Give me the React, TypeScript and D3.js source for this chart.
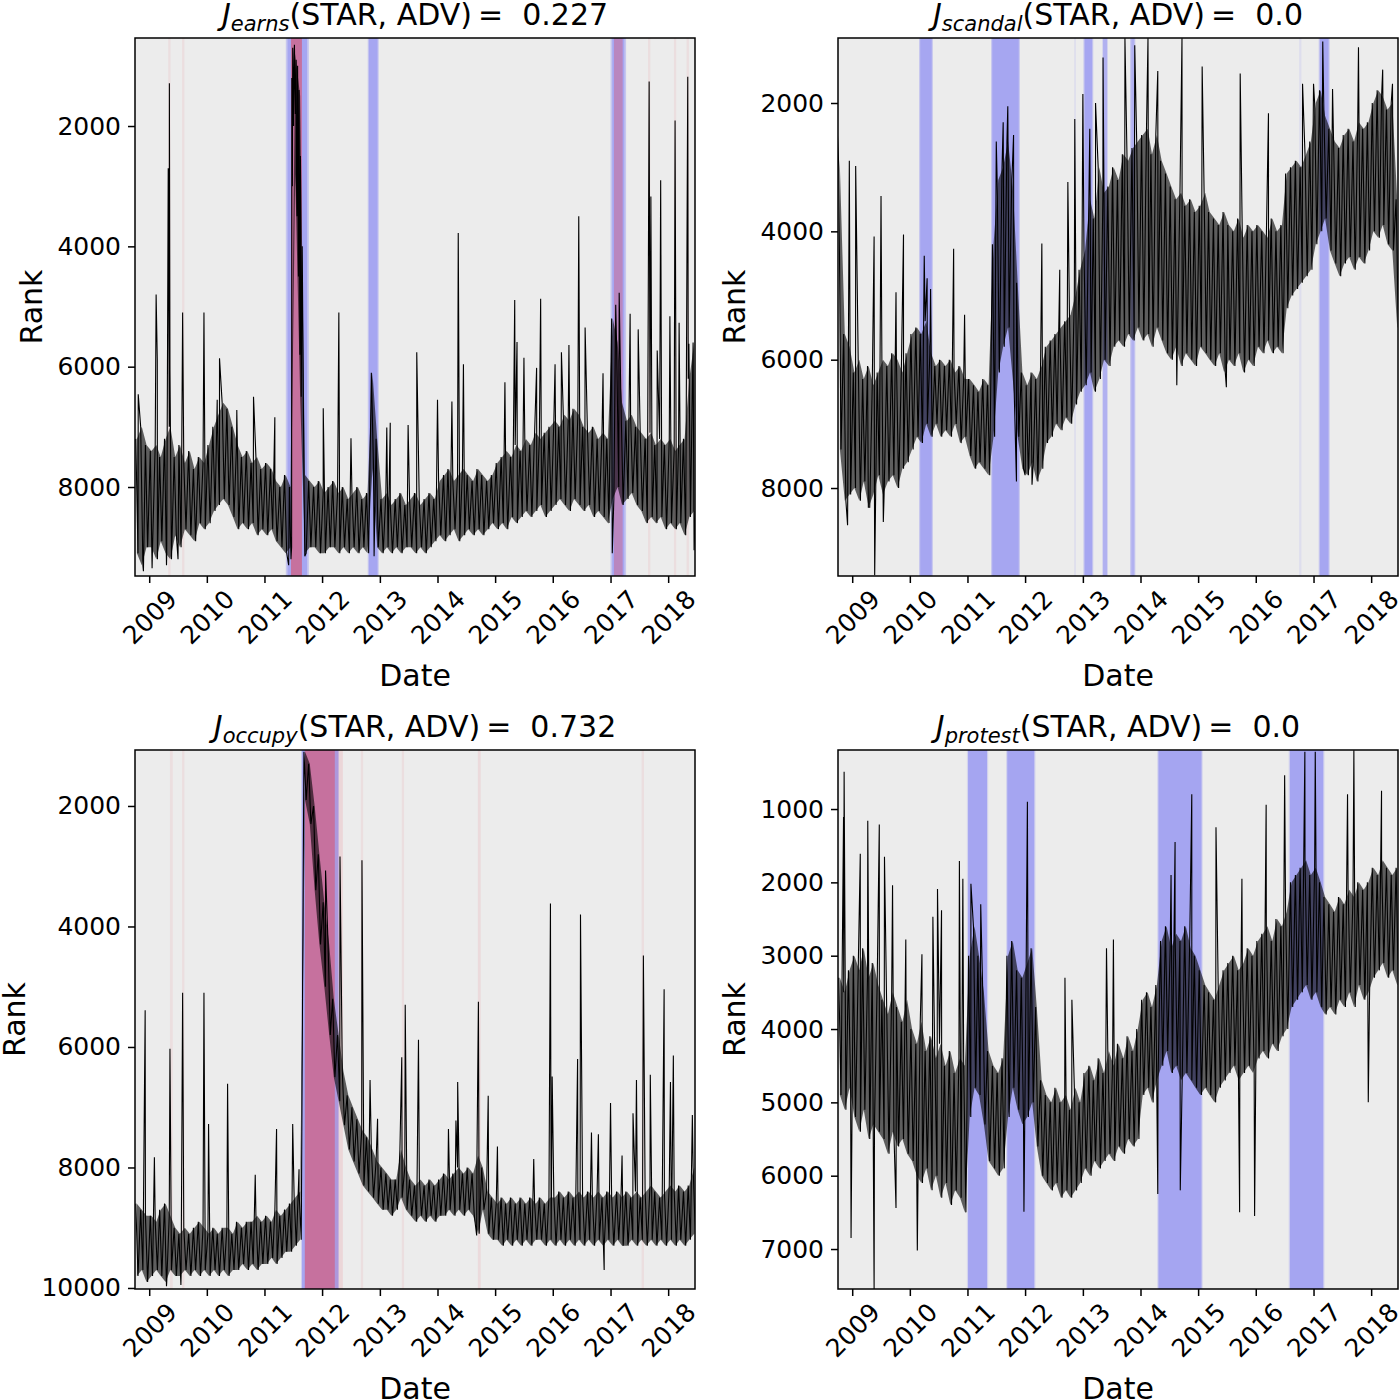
import React, { useEffect, useRef } from 'react';
import * as d3 from 'd3';

// monthly envelope of the daily rank series (Oct 2008 .. Jun 2018):
// *Top = upper edge of the dense band (small rank), *Bot = lower edge
const earnsTop = [
  7200, 7000, 7300,
  7400, 7300, 7500, 7200, 7000, 7500, 7300, 7600, 7400, 7700, 7500, 7600,
  7300, 7000, 6800, 6600, 6700, 7000, 7300, 7500, 7400, 7600, 7500, 7700,
  7600, 7700, 7900, 8000, 7800, 8000, 800, 1500, 7800, 7900, 8000, 7900,
  8100, 8000, 7900, 8100, 8000, 8200, 8100, 8000, 8200, 8100, 6100, 7200,
  8200, 8100, 8300, 8200, 8100, 8300, 8200, 8100, 8300, 8200, 8100, 8200,
  7900, 7800, 7700, 7900, 7800, 7700, 7800, 7900, 7700, 7800, 7900, 7800,
  7600, 7500, 7400, 7500, 7300, 7400, 7200, 7300, 7100, 7200, 7100, 7000,
  6900, 7000, 6800, 6900, 6700, 6800, 7000, 7100, 7000, 7200, 7100, 7200,
  5200, 5600, 6600, 6900, 6800, 7000, 7100, 7200, 7100, 7300, 7200, 7300,
  7200, 7400, 7300, 7200, 6200, 5600,
];
const earnsBot = [
  9100, 9300, 9000,
  9000, 9200, 8900, 9100, 9200, 8800, 9000, 8700, 8800, 8900, 8600, 8700,
  8600, 8400, 8300, 8200, 8300, 8500, 8700, 8600, 8700, 8600, 8800, 8700,
  8800, 8700, 8900, 9000, 9100, 9000, 2800, 6500, 9100, 9000, 9000, 9100,
  9100, 9000, 9000, 9100, 9000, 9100, 9000, 9100, 9000, 9100, 7700, 9000,
  9100, 9000, 9100, 9000, 9100, 9000, 9000, 9100, 9000, 9100, 9000, 8900,
  8800, 8900, 8800, 8700, 8900, 8800, 8700, 8800, 8700, 8800, 8700, 8600,
  8700, 8600, 8700, 8500, 8600, 8500, 8400, 8500, 8400, 8300, 8500, 8400,
  8300, 8200, 8300, 8400, 8200, 8300, 8400, 8300, 8500, 8400, 8500, 8600,
  8200, 8000, 8300, 8200, 8100, 8300, 8400, 8600, 8500, 8600, 8500, 8700,
  8600, 8700, 8600, 8800, 8500, 8400,
];
// single-day excursions [decimal year, rank]
const earnsSpikes = [
  [2008.81, 6460], [2008.9, 9400], [2009.05, 9350], [2009.12, 4800], [2009.14, 5880],
  [2009.3, 9300], [2009.33, 2700], [2009.35, 1290], [2009.36, 6050], [2009.5, 9200],
  [2009.58, 5100], [2009.95, 5100], [2010.18, 6550], [2010.22, 5860], [2010.52, 6720],
  [2010.81, 6500], [2011.18, 6840], [2011.42, 9300], [2011.46, 9200], [2011.475, 1200],
  [2011.485, 3000], [2011.49, 700], [2011.505, 2000], [2011.52, 650], [2011.535, 1800],
  [2011.55, 900], [2011.565, 3500], [2011.575, 1000], [2011.59, 4500], [2011.6, 1400],
  [2011.615, 5800], [2011.625, 2500], [2011.64, 6200], [2011.655, 4000], [2011.7, 9150],
  [2012.02, 6690], [2012.29, 5100], [2012.5, 7190], [2012.9, 9150], [2013.12, 7010],
  [2013.18, 6930], [2013.49, 6970], [2013.64, 5760], [2014.0, 6550], [2014.25, 6580],
  [2014.36, 3780], [2014.45, 5960], [2015.17, 6260], [2015.34, 4890], [2015.38, 5590],
  [2015.5, 5850], [2015.72, 6020], [2015.79, 4870], [2016.04, 5960], [2016.15, 5760],
  [2016.28, 5640], [2016.45, 3500], [2016.56, 5350], [2016.87, 6110], [2017.03, 9100],
  [2017.09, 4970], [2017.15, 4770], [2017.34, 5120], [2017.48, 5380], [2017.67, 1260],
  [2017.7, 3170], [2017.81, 5730], [2017.87, 2900], [2018.03, 5160], [2018.12, 1910],
  [2018.19, 5270], [2018.34, 1180], [2018.36, 5620], [2018.45, 9050],
];

const scandalTop = [
  3000, 5600, 5800,
  6200, 6000, 6300, 6100, 6400, 6200, 6000, 6100, 5900, 6000, 6200, 5900,
  5600, 5500, 5600, 5400, 5900, 6100, 6000, 6100, 6000, 6200, 6100, 6300,
  6300, 6400, 6500, 6300, 6400, 4200, 3200, 3000, 2600, 3300, 4800, 6200,
  6400, 6200, 6300, 6100, 5800, 5700, 5600, 5500, 5400, 5300, 5000, 4600,
  4300, 3500, 3800, 3000, 3400, 3300, 3000, 3200, 2800, 2900, 2700, 2600,
  2500, 2400, 2800, 2500, 2900, 3100, 3300, 3500, 3400, 3600, 3500, 3700,
  3600, 3400, 3700, 3800, 3900, 3700, 3900, 4000, 3800, 4100, 3900, 4000,
  3900, 4000, 4100, 3800, 4000, 3900, 3100, 3000, 2900, 3000, 2800, 2600,
  2000, 1800, 2200, 2400, 2600, 2700, 2500, 2400, 2600, 2300, 2400, 2300,
  2000, 1800, 1900, 2100, 2000, 3500,
];
const scandalBot = [
  7400, 8200, 8100,
  8000, 8200, 7900, 8300, 8100, 7800, 8100, 7900, 7800, 8000, 7700, 7600,
  7400, 7200, 7300, 7000, 7200, 7000, 7200, 7100, 7200, 7000, 7300, 7200,
  7500, 7700, 7600, 7700, 7800, 7200, 6200, 5800, 5500, 6300, 7200, 7700,
  7800, 7600, 7900, 7700, 7300, 7200, 7000, 7100, 6900, 7000, 6700, 6500,
  6400, 6200, 6500, 6300, 6000, 6100, 5800, 5700, 5800, 5600, 5700, 5500,
  5700, 5600, 5800, 5500, 5700, 5900, 6000, 5800, 6100, 5900, 6000, 6100,
  5800, 5900, 6000, 6100, 5900, 6200, 6000, 6100, 5900, 6200, 6000, 6100,
  5800, 5900, 5700, 5900, 5800, 5900, 5200, 5000, 4900, 4800, 4700, 4600,
  4200, 4000, 3800, 4300, 4500, 4700, 4500, 4400, 4600, 4400, 4500, 4300,
  4000, 4100, 3900, 4200, 4300, 5500,
];
const scandalSpikes = [
  [2008.74, 2410], [2008.92, 8580], [2008.95, 2900], [2009.06, 2980], [2009.28, 8300],
  [2009.38, 4080], [2009.39, 9360], [2009.5, 3450], [2009.54, 8530], [2009.76, 4950],
  [2009.89, 4050], [2010.25, 4380], [2010.3, 4730], [2010.36, 4900], [2010.76, 4270],
  [2010.95, 5300], [2011.5, 2600], [2011.62, 2300], [2011.7, 2050], [2011.8, 2500],
  [2011.85, 7900], [2012.0, 7800], [2012.12, 7950], [2012.29, 4190], [2012.6, 4600],
  [2012.74, 3230], [2012.86, 2250], [2013.0, 1860], [2013.12, 2400], [2013.22, 2000],
  [2013.35, 1290], [2013.73, 990], [2013.9, 1100], [2014.13, 990], [2014.3, 1500],
  [2014.63, 6400], [2014.72, 990], [2015.07, 1430], [2015.49, 6430], [2015.73, 1540],
  [2016.22, 2160], [2016.81, 1700], [2017.0, 1700], [2017.16, 1040], [2017.33, 1780],
  [2017.78, 1130], [2018.2, 1480], [2018.37, 1700],
];

const occupyTop = [
  8600, 8700, 8800,
  8800, 8900, 8700, 8600, 8800, 9000, 9100, 9000, 9100, 9000, 8900, 9000,
  9100, 9000, 9100, 9000, 9000, 9100, 8900, 9000, 8900, 8900, 8800, 8900,
  8800, 8900, 8700, 8800, 8700, 8600, 8500, 8400, 1100, 1300, 2000, 2800,
  3600, 4300, 5200, 5800, 6400, 6800, 7000, 7200, 7400, 7500, 7700, 7900,
  8000, 8100, 8200, 8200, 7700, 8000, 8200, 8300, 8200, 8300, 8200, 8300,
  8200, 8100, 8200, 8100, 8000, 8100, 8000, 8100, 7800, 8000, 8400, 8500,
  8600, 8500, 8600, 8500, 8600, 8500, 8600, 8500, 8600, 8500, 8600, 8500,
  8500, 8400, 8500, 8400, 8500, 8400, 8500, 8400, 8500, 8400, 8500, 8400,
  8500, 8400, 8500, 8400, 8500, 8400, 8500, 8400, 8300, 8400, 8500, 8400,
  8300, 8400, 8300, 8400, 8300, 8000,
];
const occupyBot = [
  9800, 9700, 9900,
  9800, 9700, 9800, 9900, 9700, 9800, 9800, 9700, 9800, 9700, 9800, 9700,
  9800, 9700, 9800, 9700, 9800, 9700, 9700, 9600, 9700, 9600, 9700, 9600,
  9600, 9500, 9600, 9500, 9400, 9400, 9300, 9200, 1900, 2300, 3400, 4300,
  5000, 5800, 6500, 6900, 7300, 7700, 7900, 8100, 8300, 8400, 8500, 8600,
  8700, 8700, 8800, 8700, 8500, 8700, 8800, 8900, 8800, 8900, 8800, 8900,
  8800, 8800, 8700, 8800, 8700, 8800, 8700, 8800, 9100, 8700, 9100, 9200,
  9200, 9300, 9200, 9300, 9200, 9300, 9200, 9300, 9200, 9200, 9300, 9200,
  9300, 9200, 9300, 9200, 9300, 9200, 9300, 9200, 9300, 9200, 9300, 9200,
  9300, 9200, 9300, 9300, 9200, 9300, 9200, 9300, 9200, 9300, 9200, 9300,
  9200, 9300, 9200, 9300, 9200, 9100,
];
const occupySpikes = [
  [2008.93, 5390], [2009.09, 7830], [2009.3, 9970], [2009.36, 6030], [2009.55, 9950],
  [2009.58, 5100], [2009.95, 5100], [2010.03, 7280], [2010.36, 6610], [2010.84, 8120],
  [2011.21, 7360], [2011.49, 7280], [2011.6, 8030], [2011.66, 5300], [2012.06, 3070],
  [2012.31, 2840], [2012.69, 2900], [2012.83, 6550], [2012.96, 7190], [2013.38, 6170],
  [2013.44, 5300], [2013.67, 5880], [2014.19, 7360], [2014.32, 7220], [2014.35, 6580],
  [2014.68, 9130], [2014.71, 5250], [2014.88, 6810], [2015.04, 7650], [2015.67, 7860],
  [2015.96, 3620], [2015.99, 6490], [2016.43, 6200], [2016.48, 3800], [2016.67, 7420],
  [2016.79, 7450], [2016.89, 9700], [2017.0, 6930], [2017.2, 7800], [2017.39, 7100],
  [2017.45, 6550], [2017.57, 4480], [2017.69, 6460], [2017.93, 5040], [2018.04, 6580],
  [2018.09, 6140], [2018.42, 7130],
];

const protestTop = [
  3300, 3500, 3200,
  3000, 3200, 2900, 3300, 3100, 3400, 3600, 3800, 3500, 3700, 3900, 3600,
  4000, 4200, 3900, 4300, 4100, 4400, 4200, 4500, 4300, 4600, 4400, 4500,
  3000, 2600, 3000, 3500, 4300, 4500, 4600, 4400, 3000, 2800, 3200, 3300,
  3100, 2900, 3700, 4700, 4900, 5000, 4800, 5000, 4900, 5100, 4800, 5000,
  4600, 4500, 4700, 4400, 4600, 4300, 4500, 4200, 4400, 4100, 4300, 4000,
  3600, 3500, 3700, 3400, 2800, 2600, 2900, 2700, 2800, 2600, 2900, 3000,
  3200, 3400, 3500, 3600, 3400, 3200, 3100, 3000, 3200, 3100, 2900, 3000,
  2800, 2700, 2600, 2800, 2500, 2600, 2400, 2000, 1900, 1800, 1700, 1900,
  1800, 2000, 2200, 2300, 2400, 2200, 2300, 2100, 2200, 2000, 2100, 2000,
  1800, 1900, 1700, 1800, 1900, 1800,
];
const protestBot = [
  4900, 5100, 4800,
  5200, 5400, 5100, 5500, 5300, 5400, 5500, 5700, 5400, 5600, 5500, 5700,
  5800, 6000, 6100, 5900, 6200, 6000, 6300, 6100, 6400, 6200, 6300, 6500,
  5200, 4800, 4900, 5300, 5800, 5900, 6000, 5900, 5200, 4800, 5100, 5300,
  5200, 5000, 5600, 6000, 6100, 6200, 6100, 6300, 6200, 6300, 6200, 6100,
  5900, 6000, 5800, 5900, 5800, 5700, 5800, 5600, 5700, 5500, 5600, 5500,
  4900, 4800, 5000, 4700, 4500, 4300, 4600, 4500, 4700, 4600, 4700, 4800,
  4900, 4800, 4900, 5000, 4800, 4700, 4600, 4500, 4700, 4600, 4500, 4600,
  4400, 4300, 4400, 4200, 4300, 4100, 4000, 3700, 3600, 3500, 3400, 3600,
  3500, 3700, 3800, 3700, 3800, 3600, 3700, 3500, 3700, 3400, 3600, 3500,
  3300, 3200, 3100, 3300, 3200, 3400,
];
const protestSpikes = [
  [2008.85, 1110], [2008.86, 490], [2008.98, 6850], [2009.14, 1610], [2009.27, 1160],
  [2009.38, 7560], [2009.47, 1210], [2009.56, 1650], [2009.7, 2040], [2009.76, 6440],
  [2009.93, 2780], [2010.13, 7020], [2010.21, 2980], [2010.4, 2470], [2010.48, 2090],
  [2010.55, 2380], [2010.86, 1710], [2010.92, 1950], [2011.06, 2020], [2011.23, 2300],
  [2011.98, 6490], [2012.04, 900], [2012.69, 3300], [2012.81, 3600], [2013.41, 2900],
  [2013.53, 2780], [2014.3, 6250], [2014.53, 1900], [2014.6, 1450], [2014.69, 6200],
  [2014.89, 800], [2015.31, 1250], [2015.72, 6500], [2015.76, 1950], [2015.98, 6550],
  [2016.18, 940], [2016.5, 540], [2016.85, 220], [2017.03, 220], [2017.59, 800],
  [2017.7, 200], [2017.95, 5000], [2018.18, 750],
];

// shaded periods [start, end, opacity]
const earnsBlue = [
  [2011.37, 2011.77, 0.16], [2011.4, 2011.74, 0.16], [2012.79, 2012.98, 0.16],
  [2012.81, 2012.96, 0.16], [2017.0, 2017.27, 0.16], [2017.03, 2017.24, 0.16],
];
const earnsRed = [
  [2009.33, 2009.37, 0.08], [2009.57, 2009.61, 0.08], [2011.46, 2011.65, 0.5],
  [2017.06, 2017.21, 0.3], [2017.65, 2017.69, 0.08], [2018.1, 2018.14, 0.08],
  [2018.32, 2018.36, 0.08],
];
const scandalBlue = [
  [2010.16, 2010.4, 0.16], [2010.18, 2010.38, 0.16], [2011.41, 2011.91, 0.16],
  [2011.43, 2011.89, 0.16], [2012.85, 2012.88, 0.06], [2013.01, 2013.18, 0.16],
  [2013.03, 2013.16, 0.16], [2013.34, 2013.43, 0.16], [2013.35, 2013.42, 0.1],
  [2013.82, 2013.91, 0.16], [2013.84, 2013.89, 0.1], [2016.75, 2016.79, 0.06],
  [2017.09, 2017.28, 0.16], [2017.11, 2017.26, 0.16],
];
const scandalRed = [];
const occupyBlue = [[2011.64, 2012.29, 0.16], [2011.65, 2012.28, 0.16]];
const occupyRed = [
  [2009.36, 2009.41, 0.08], [2009.57, 2009.61, 0.08], [2011.7, 2012.22, 0.5],
  [2012.22, 2012.36, 0.12], [2012.67, 2012.71, 0.08], [2013.38, 2013.42, 0.08],
  [2014.7, 2014.75, 0.1], [2017.54, 2017.58, 0.08],
];
const protestBlue = [
  [2010.99, 2011.36, 0.1], [2011.01, 2011.34, 0.22], [2011.67, 2012.18, 0.1],
  [2011.69, 2012.16, 0.22], [2014.29, 2015.08, 0.1], [2014.31, 2015.06, 0.22],
  [2016.57, 2017.19, 0.1], [2016.59, 2017.17, 0.22],
];
const protestRed = [];

const yearTicks = [2009, 2010, 2011, 2012, 2013, 2014, 2015, 2016, 2017, 2018];
const rankTicks = [2000, 4000, 6000, 8000];
const occupyTicks = [2000, 4000, 6000, 8000, 10000];
const protestTicks = [1000, 2000, 3000, 4000, 5000, 6000, 7000];

const panels = [
  { word: 'earns', score: '0.227', top: earnsTop, bot: earnsBot, spikes: earnsSpikes,
    blue: earnsBlue, red: earnsRed, ticks: rankTicks, domain: [537, 9479],
    left: 135, y0: 38, h: 538, labelX: 42 },
  { word: 'scandal', score: '0.0', top: scandalTop, bot: scandalBot, spikes: scandalSpikes,
    blue: scandalBlue, red: scandalRed, ticks: rankTicks, domain: [987, 9371],
    left: 838, y0: 38, h: 538, labelX: 745 },
  { word: 'occupy', score: '0.732', top: occupyTop, bot: occupyBot, spikes: occupySpikes,
    blue: occupyBlue, red: occupyRed, ticks: occupyTicks, domain: [1071, 10017],
    left: 135, y0: 750, h: 539, labelX: 25 },
  { word: 'protest', score: '0.0', top: protestTop, bot: protestBot, spikes: protestSpikes,
    blue: protestBlue, red: protestRed, ticks: protestTicks, domain: [195, 7545],
    left: 838, y0: 750, h: 539, labelX: 745 },
];

const fromYear = (t) => {
  const y = Math.floor(t);
  const a = new Date(y, 0, 1).getTime();
  const b = new Date(y + 1, 0, 1).getTime();
  return new Date(a + (t - y) * (b - a));
};

const FONT = 'DejaVu Sans';
const W = 560;

const App = () => {
  const ref = useRef<SVGSVGElement>(null);

  useEffect(() => {
    const svg = d3.select(ref.current);
    svg.selectAll('*').remove();

    panels.forEach((p, k) => {
      const x = d3.scaleTime()
        .domain([new Date(2008, 9, 3), new Date(2018, 5, 20)])
        .range([0, W]);
      const y = d3.scaleLinear().domain(p.domain).range([0, p.h]);

      const g = svg.append('g').attr('transform', `translate(${p.left},${p.y0})`);
      const clipId = `clip${k}`;
      g.append('clipPath').attr('id', clipId)
        .append('rect').attr('width', W).attr('height', p.h);

      g.append('rect').attr('width', W).attr('height', p.h).attr('fill', '#ececec');

      const body = g.append('g').attr('clip-path', `url(#${clipId})`);

      // shaded periods
      const spans = (list, color) => {
        body.selectAll(null)
          .data(list)
          .enter()
          .append('rect')
          .attr('x', d => x(fromYear(d[0])))
          .attr('width', d => x(fromYear(d[1])) - x(fromYear(d[0])))
          .attr('y', 0)
          .attr('height', p.h)
          .attr('fill', color)
          .attr('fill-opacity', d => d[2]);
      };
      spans(p.blue, '#0000ff');
      spans(p.red, '#e63c4b');

      // dense band
      const area = d3.area()
        .x((d, i) => x(new Date(2008, 9 + i, 15)))
        .y0((d, i) => y(p.top[i]))
        .y1((d, i) => y(p.bot[i]));
      body.append('path')
        .datum(p.top)
        .attr('d', area)
        .attr('fill', '#000')
        .attr('fill-opacity', 0.6);

      const pts = p.top
        .flatMap((t, i) => [
          { date: new Date(2008, 9 + i, 8), v: t },
          { date: new Date(2008, 9 + i, 22), v: p.bot[i] },
        ])
        .concat(p.spikes.map(([t, v]) => ({ date: fromYear(t), v })))
        .sort((a, b) => a.date - b.date);

      const line = d3.line()
        .x(d => x(d.date))
        .y(d => y(d.v));
      body.append('path')
        .datum(pts)
        .attr('d', line)
        .attr('fill', 'none')
        .attr('stroke', '#000')
        .attr('stroke-width', 1.1);

      // frame
      g.append('rect').attr('width', W).attr('height', p.h)
        .attr('fill', 'none').attr('stroke', '#000').attr('stroke-width', 1.5);

      // axes
      const yAxis = g.append('g')
        .call(d3.axisLeft(y).tickValues(p.ticks).tickSize(7).tickPadding(7).tickFormat(d3.format('d')));
      yAxis.select('.domain').remove();
      yAxis.selectAll('line').attr('stroke-width', 1.5);
      yAxis.selectAll('text').attr('font-size', 25).attr('font-family', FONT).attr('fill', '#000');

      const xAxis = g.append('g')
        .attr('transform', `translate(0,${p.h})`)
        .call(d3.axisBottom(x).tickValues(yearTicks.map(yr => new Date(yr, 0, 1))).tickSize(7)
          .tickFormat(d3.timeFormat('%Y')));
      xAxis.select('.domain').remove();
      xAxis.selectAll('line').attr('stroke-width', 1.5);
      xAxis.selectAll('text')
        .attr('font-size', 25).attr('font-family', FONT).attr('fill', '#000')
        .attr('y', 0).attr('dy', '0.35em')
        .attr('text-anchor', 'middle')
        .attr('transform', 'translate(0,41) rotate(-45)');

      // labels
      g.append('text')
        .attr('transform', `translate(${p.labelX - p.left},${p.h / 2}) rotate(-90)`)
        .attr('text-anchor', 'middle')
        .attr('font-family', FONT).attr('font-size', 30)
        .text('Rank');
      g.append('text')
        .attr('x', W / 2).attr('y', p.h + 110)
        .attr('text-anchor', 'middle')
        .attr('font-family', FONT).attr('font-size', 30)
        .text('Date');

      const title = g.append('text')
        .attr('x', W / 2).attr('y', -13)
        .attr('text-anchor', 'middle')
        .attr('font-family', FONT).attr('font-size', 30);
      title.append('tspan').attr('font-style', 'italic').text('J');
      title.append('tspan').attr('font-style', 'italic').attr('font-size', 21).attr('dy', 6).text(p.word);
      title.append('tspan').attr('dy', -6).text(`(STAR, ADV)\u2009=\u00a0\u00a0${p.score}`);
    });
  }, []);

  return (
    <svg ref={ref} width={1400} height={1400}
      style={{ position: 'absolute', left: 0, top: 0, background: '#fff' }} />
  );
};

export default App;
